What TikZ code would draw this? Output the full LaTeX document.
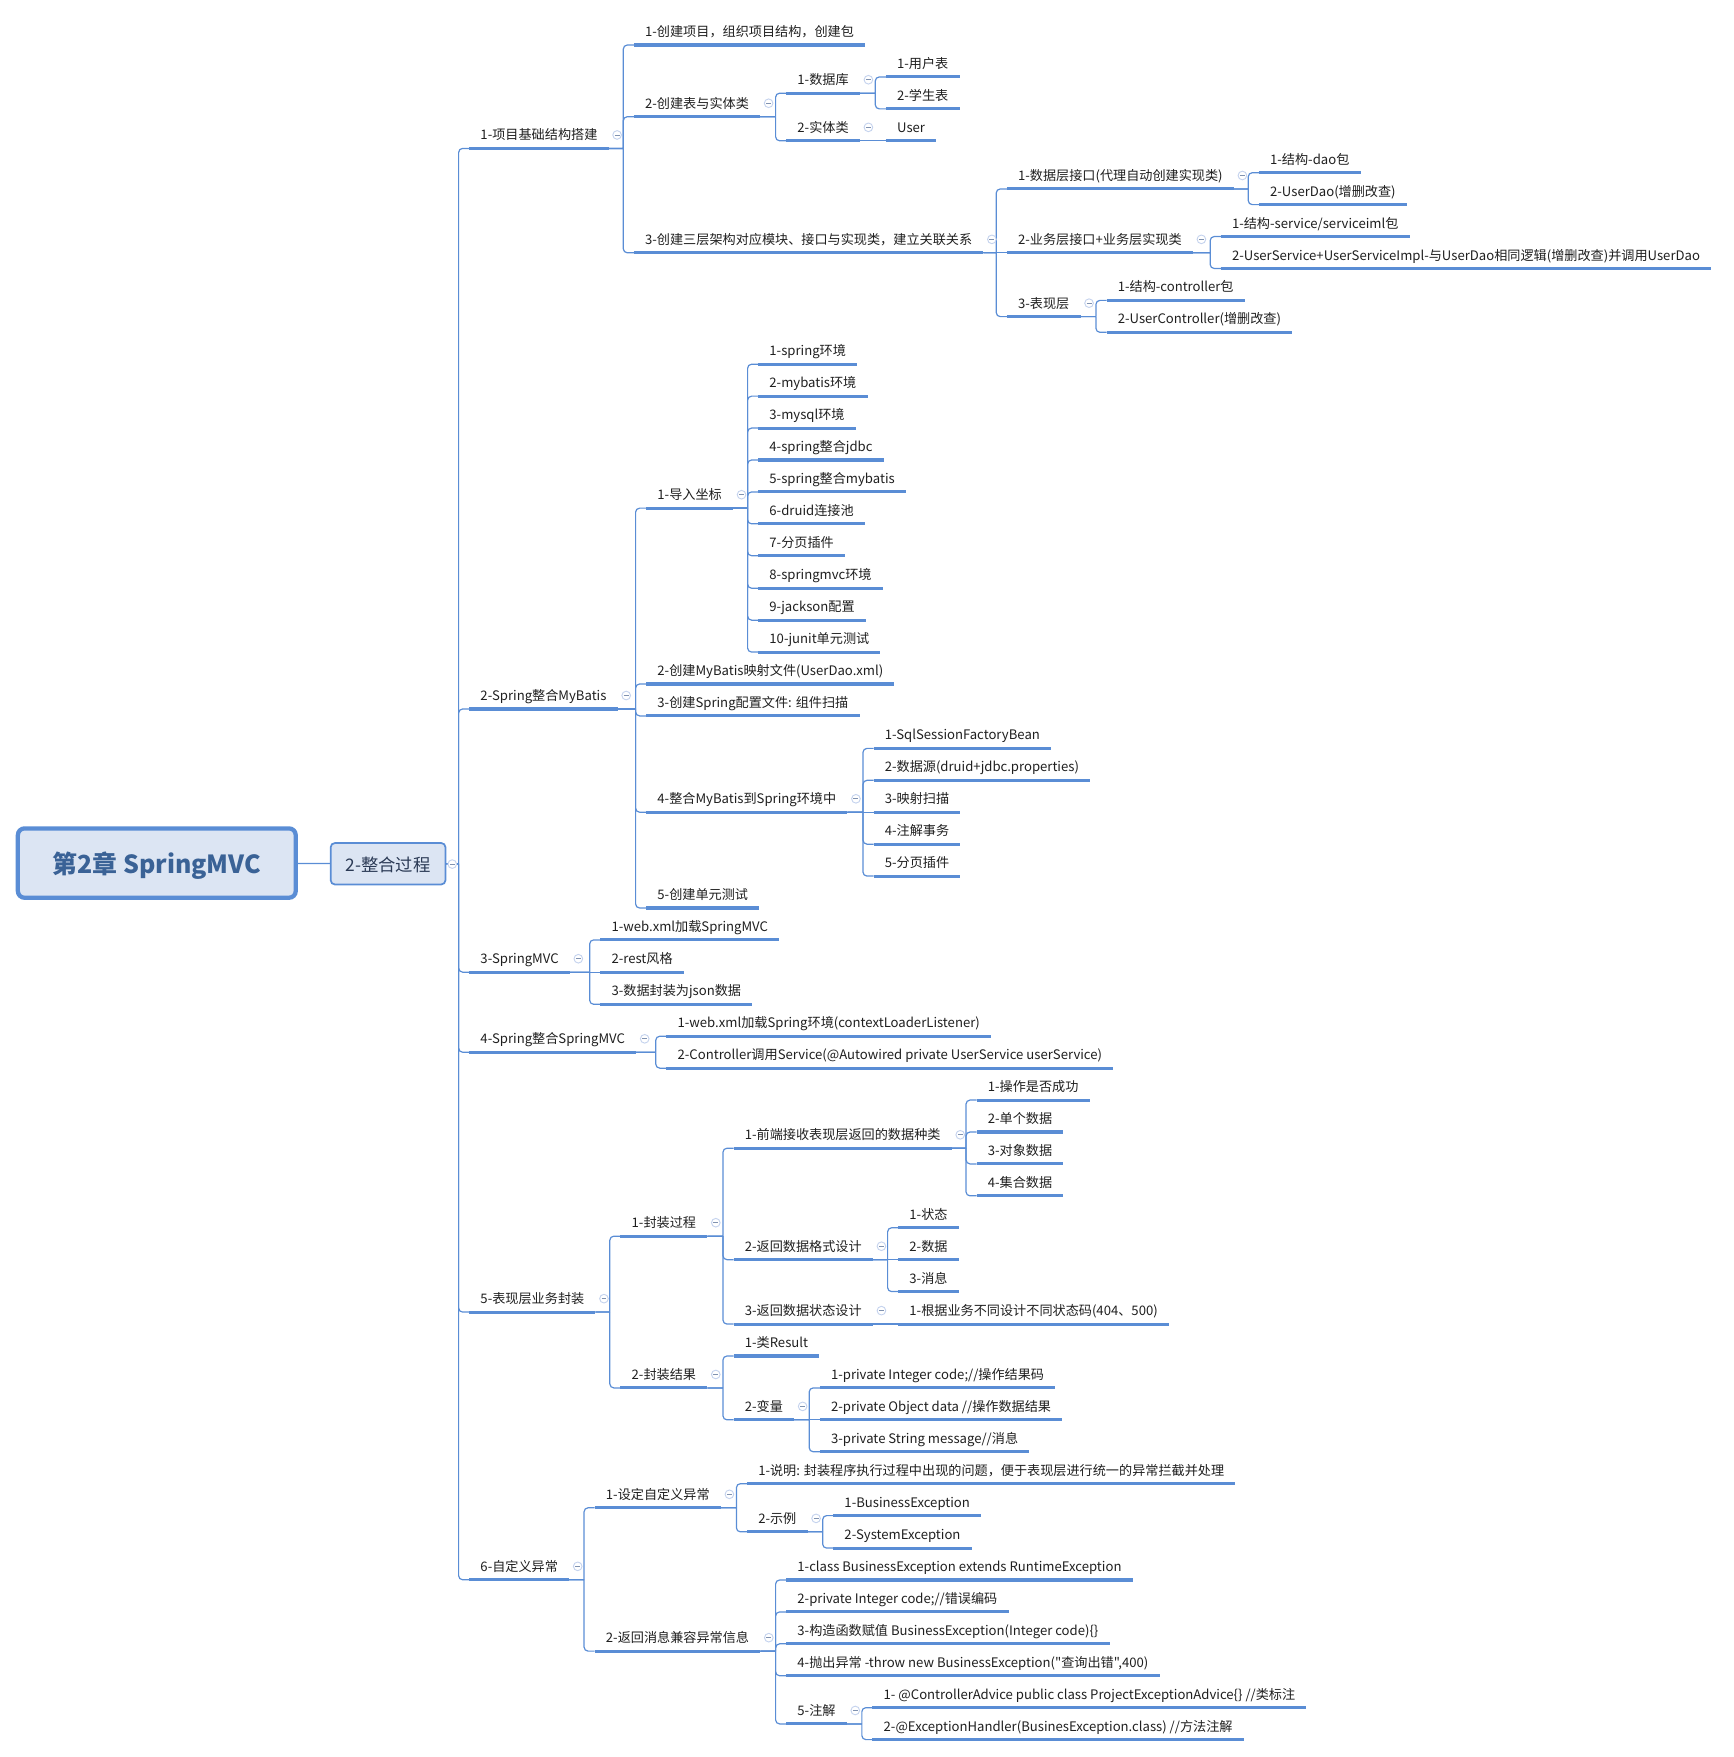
\documentclass[tikz,border=0pt]{standalone}
\usepackage{fontspec}
\setmainfont[Ligatures=TeXOff]{Noto Sans CJK SC}
\usetikzlibrary{calc,backgrounds}
\definecolor{mapblue}{HTML}{5A8DD5}
\definecolor{mapfill}{HTML}{DCE5F3}
\definecolor{foldblue}{HTML}{C5D3EE}
\definecolor{roottext}{HTML}{3A6296}
\definecolor{subtext}{HTML}{2B3A55}
\tikzset{
  underline/.style={draw=mapblue, line width=2.3pt},
  fold/.style={circle, draw=foldblue, fill=white, line width=0.7pt, minimum size=6.5pt, inner sep=0pt,
    path picture={\draw[foldblue!70!black!80!mapblue, line width=0.6pt] ([xshift=1.4pt]path picture bounding box.west) -- ([xshift=-1.4pt]path picture bounding box.east);}},
  topic/.style={anchor=south west, inner xsep=8.4pt, inner ysep=3.3pt, outer sep=0pt, text height=8pt, text depth=3pt,
    font=\fontsize{9.85}{12}\selectfont, text=black!88,
    append after command={(\tikzlastnode.south west) edge[underline] (\tikzlastnode.south east)}},
  hub/.style={topic, append after command={node[fold] (\tikzlastnode-fold) at ($(\tikzlastnode.south east)+(7.6,-12)$) {}}},
  wire/.style={draw=mapblue, line width=0.9pt},
  link/.style={wire, to path={
    (\tikztotarget) ++(-9.5,0) coordinate (jn)
    (\tikztostart) -- (jn |- \tikztostart)
    (jn |- \tikztostart) [rounded corners=3pt] -- (jn) -- (\tikztotarget)}}
}
\begin{document}
\begin{tikzpicture}[x=0.84pt, y=-0.84pt]
\useasboundingbox (-1,-0.5) rectangle (1546.32,1568.25);

% Root
\node[draw=mapblue, fill=mapfill, line width=3.2pt, rounded corners=5pt, minimum width=208.4pt, minimum height=52pt,
  font=\fontsize{18.7}{22}\selectfont\bfseries, text=roottext, text height=17pt, text depth=1pt] (root) at (139,770.1) {第2章 SpringMVC};
\node[draw=mapblue, fill=mapfill, line width=1.3pt, rounded corners=3pt, minimum width=86pt, minimum height=31pt,
  font=\fontsize{13}{15}\selectfont, text=subtext, text height=13pt, text depth=1pt] (flow) at (345.5,770.7) {2-整合过程};
\node[fold] (flow-fold) at (402.8,771) {};

% Level 1
\node[hub] (base) at (418,132) {1-项目基础结构搭建};
\node[hub] (mybatis) at (418,632.5) {2-Spring整合MyBatis};
\node[hub] (mvc) at (418,867.5) {3-SpringMVC};
\node[hub] (ssm) at (418,939) {4-Spring整合SpringMVC};
\node[hub] (wrap) at (418,1171) {5-表现层业务封装};
\node[hub] (exc) at (418,1410) {6-自定义异常};

% 1 Base
\node[topic] (project) at (565,39.7) {1-创建项目，组织项目结构，创建包};
\node[hub] (tables) at (565,103.7) {2-创建表与实体类};
\node[hub] (layers) at (565,225.2) {3-创建三层架构对应模块、接口与实现类，建立关联关系};
\node[hub] (db) at (701,82.7) {1-数据库};
\node[hub] (entity) at (701,125.2) {2-实体类};
\node[topic] (users) at (790,68.2) {1-用户表};
\node[topic] (students) at (790,96.7) {2-学生表};
\node[topic] (user) at (790,125.2) {User};
\node[hub] (daolayer) at (898,168.2) {1-数据层接口(代理自动创建实现类)};
\node[hub] (svclayer) at (898,225.2) {2-业务层接口+业务层实现类};
\node[hub] (weblayer) at (898,282.2) {3-表现层};
\node[topic] (daopkg) at (1123,153.7) {1-结构-dao包};
\node[topic] (userdao) at (1123,182.2) {2-UserDao(增删改查)};
\node[topic] (svcpkg) at (1089,210.7) {1-结构-service/serviceiml包};
\node[topic] (usersvc) at (1089,239.2) {2-UserService+UserServiceImpl-与UserDao相同逻辑(增删改查)并调用UserDao};
\node[topic] (webpkg) at (987,267.7) {1-结构-controller包};
\node[topic] (userctl) at (987,296.2) {2-UserController(增删改查)};

% 2 Spring + MyBatis
\node[hub] (deps) at (576,453.2) {1-导入坐标};
\node[topic] (mapper) at (576,610.2) {2-创建MyBatis映射文件(UserDao.xml)};
\node[topic] (scan) at (576,638.7) {3-创建Spring配置文件: 组件扫描};
\node[hub] (merge) at (576,724.7) {4-整合MyBatis到Spring环境中};
\node[topic] (unit) at (576,810.2) {5-创建单元测试};
\node[topic] (dep1) at (676,324.7) {1-spring环境};
\node[topic] (dep2) at (676,353.2) {2-mybatis环境};
\node[topic] (dep3) at (676,381.7) {3-mysql环境};
\node[topic] (dep4) at (676,410.2) {4-spring整合jdbc};
\node[topic] (dep5) at (676,438.7) {5-spring整合mybatis};
\node[topic] (dep6) at (676,467.2) {6-druid连接池};
\node[topic] (dep7) at (676,495.7) {7-分页插件};
\node[topic] (dep8) at (676,524.7) {8-springmvc环境};
\node[topic] (dep9) at (676,553.2) {9-jackson配置};
\node[topic] (dep10) at (676,581.7) {10-junit单元测试};
\node[topic] (merge1) at (779,667.7) {1-SqlSessionFactoryBean};
\node[topic] (merge2) at (779,696.2) {2-数据源(druid+jdbc.properties)};
\node[topic] (merge3) at (779,724.7) {3-映射扫描};
\node[topic] (merge4) at (779,753.2) {4-注解事务};
\node[topic] (merge5) at (779,781.7) {5-分页插件};

% 3 SpringMVC
\node[topic] (mvc1) at (535,838.7) {1-web.xml加载SpringMVC};
\node[topic] (mvc2) at (535,867.5) {2-rest风格};
\node[topic] (mvc3) at (535,896.2) {3-数据封装为json数据};

% 4 Spring + SpringMVC
\node[topic] (ssm1) at (594,924.7) {1-web.xml加载Spring环境(contextLoaderListener)};
\node[topic] (ssm2) at (594,953.2) {2-Controller调用Service(@Autowired private UserService userService)};

% 5 Result wrapper
\node[hub] (wrapflow) at (553,1103.2) {1-封装过程};
\node[hub] (wrapres) at (553,1238.7) {2-封装结果};
\node[hub] (kinds) at (654,1024.7) {1-前端接收表现层返回的数据种类};
\node[hub] (format) at (654,1124.2) {2-返回数据格式设计};
\node[hub] (status) at (654,1181.7) {3-返回数据状态设计};
\node[topic] (kind1) at (871,981.7) {1-操作是否成功};
\node[topic] (kind2) at (871,1010.2) {2-单个数据};
\node[topic] (kind3) at (871,1038.7) {3-对象数据};
\node[topic] (kind4) at (871,1067.2) {4-集合数据};
\node[topic] (fmt1) at (801,1095.7) {1-状态};
\node[topic] (fmt2) at (801,1124.2) {2-数据};
\node[topic] (fmt3) at (801,1152.7) {3-消息};
\node[topic] (code) at (801,1181.7) {1-根据业务不同设计不同状态码(404、500)};
\node[topic] (result) at (654,1210.2) {1-类Result};
\node[hub] (vars) at (654,1267.2) {2-变量};
\node[topic] (var1) at (731,1238.7) {1-private Integer code;//操作结果码};
\node[topic] (var2) at (731,1267.2) {2-private Object data //操作数据结果};
\node[topic] (var3) at (731,1295.7) {3-private String message//消息};

% 6 Exceptions
\node[hub] (define) at (530,1345.7) {1-设定自定义异常};
\node[hub] (compat) at (530,1473.7) {2-返回消息兼容异常信息};
\node[topic] (note) at (666,1324.2) {1-说明: 封装程序执行过程中出现的问题，便于表现层进行统一的异常拦截并处理};
\node[hub] (sample) at (666,1367.2) {2-示例};
\node[topic] (bizexc) at (743,1352.7) {1-BusinessException};
\node[topic] (sysexc) at (743,1381.7) {2-SystemException};
\node[topic] (exc1) at (701,1410.2) {1-class BusinessException extends RuntimeException};
\node[topic] (exc2) at (701,1438.7) {2-private Integer code;//错误编码};
\node[topic] (exc3) at (701,1467.2) {3-构造函数赋值 BusinessException(Integer code)\{\}};
\node[topic] (exc4) at (701,1495.7) {4-抛出异常 -throw new BusinessException("查询出错",400)};
\node[hub] (notes) at (701,1538.7) {5-注解};
\node[topic] (note1) at (778,1524.2) {1- @ControllerAdvice public class ProjectExceptionAdvice\{\} //类标注};
\node[topic] (note2) at (778,1552.7) {2-@ExceptionHandler(BusinesException.class) //方法注解};

% Connections
\begin{scope}[on background layer]
\draw[wire] (root) -- (flow);
\foreach \kid in {base,mybatis,mvc,ssm,wrap,exc}
  \draw[link] (flow.east) to (\kid.south west);
% straight runs
\foreach \from/\to in {entity/user,layers/svclayer,merge/merge3,mvc/mvc2,format/fmt2,status/code,vars/var2}
  \draw[wire] (\from.south east) -- (\to.south west);
% elbows
\foreach \from/\to in {base/project,base/tables,base/layers,tables/db,tables/entity,db/users,db/students,
  layers/daolayer,layers/weblayer,daolayer/daopkg,daolayer/userdao,svclayer/svcpkg,svclayer/usersvc,weblayer/webpkg,weblayer/userctl,
  mybatis/deps,mybatis/mapper,mybatis/scan,mybatis/merge,mybatis/unit,
  deps/dep1,deps/dep2,deps/dep3,deps/dep4,deps/dep5,deps/dep6,deps/dep7,deps/dep8,deps/dep9,deps/dep10,
  merge/merge1,merge/merge2,merge/merge4,merge/merge5,
  mvc/mvc1,mvc/mvc3,ssm/ssm1,ssm/ssm2,
  wrap/wrapflow,wrap/wrapres,wrapflow/kinds,wrapflow/format,wrapflow/status,
  kinds/kind1,kinds/kind2,kinds/kind3,kinds/kind4,format/fmt1,format/fmt3,
  wrapres/result,wrapres/vars,vars/var1,vars/var3,
  exc/define,exc/compat,define/note,define/sample,sample/bizexc,sample/sysexc,
  compat/exc1,compat/exc2,compat/exc3,compat/exc4,compat/notes,notes/note1,notes/note2}
  \draw[link] (\from.south east) to (\to.south west);
\end{scope}
\end{tikzpicture}
\end{document}
